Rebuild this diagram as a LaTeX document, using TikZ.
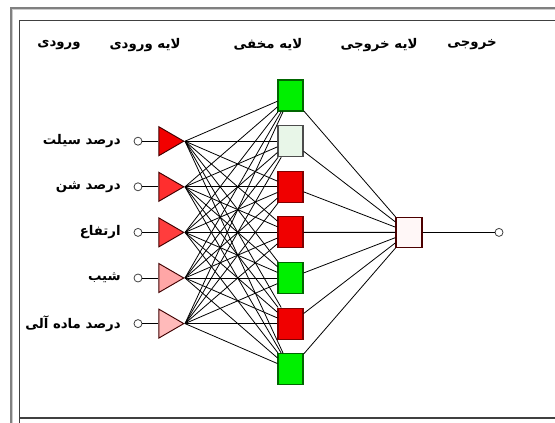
\documentclass[tikz,border=0pt]{standalone}
\usepackage{fontspec}
\newfontfamily\arabicfont[Script=Arabic]{DejaVu Sans}
\TeXXeTstate=1
\usetikzlibrary{shapes.geometric}
\newcommand{\farsi}[1]{{\arabicfont\bfseries\beginR #1\endR}}
\definecolor{hgreen}{HTML}{00F000}
\definecolor{hlight}{HTML}{E8F6E8}
\definecolor{hred}{HTML}{F00000}
\tikzset{
  lbl/.style = {font=\fontsize{10}{12}\selectfont, inner sep=0pt},
  link/.style = {draw=black, line width=0.6pt},
  tri/.style = {isosceles triangle, isosceles triangle stretches, shape border rotate=0,
    minimum width=29*0.75pt, minimum height=25*0.75pt, inner sep=0pt, draw=black!75!red, line width=0.7pt},
  hid/.style = {rectangle, minimum width=25*0.75pt, minimum height=31*0.75pt, inner sep=0pt, line width=0.9pt},
  io/.style = {circle, minimum size=8*0.75pt, inner sep=0pt, draw=black!75, fill=white, line width=0.6pt}
}
\begin{document}
\begin{tikzpicture}[x=0.75pt, y=-0.75pt]
\useasboundingbox (0,0) rectangle (555,423);
% frames
\draw[gray, line width=1.5pt] (10.5,430) -- (10.5,8) -- (560,8);
\draw[black!20, line width=0.75pt] (12.5,430) -- (12.5,10) -- (560,10);
\draw[black!75, line width=1.1pt] (19.5,560) -- (19.5,20.5) -- (560,20.5);
\draw[black!75, line width=1.1pt] (19.5,418) -- (560,418);
% headers
\node[lbl] (hd1) at (59,45) {\farsi{ورودی}};
\node[lbl] (hd2) at (145,45) {\farsi{لایه ورودی}};
\node[lbl] (hd3) at (268,45) {\farsi{لایه مخفی}};
\node[lbl] (hd4) at (379,45) {\farsi{لایه خروجی}};
\node[lbl] (hd5) at (472,45) {\farsi{خروجی}};
% hidden layer
\foreach \i/\c/\b in {1/hgreen/green!40!black, 2/hlight/black!70, 3/hred/red!50!black, 4/hred/red!50!black,
  5/hgreen/green!40!black, 6/hred/red!50!black, 7/hgreen/green!40!black}
  \node[hid, fill=\c, draw=\b] (h\i) at (290.5,{50+45.6*\i}) {};
% output layer
\node[hid, minimum height=30*0.75pt, minimum width=26*0.75pt, fill=red!3, draw=red!30!black] (out) at (409,232.4) {};
\node[io] (outc) at (499,232.4) {};
\draw[link] (out) -- (outc);
\foreach \j in {1,...,7} \draw[link] (h\j) -- (out);
% input layer
\foreach \i/\c/\t in {1/{red!95!black}/درصد سیلت, 2/{red!82!white}/درصد شن, 3/{red!76!white}/ارتفاع,
  4/{red!35!white}/شیب, 5/{red!27!white}/درصد ماده آلی} {
  \node[tri, fill=\c, anchor=apex] (t\i) at (185,{50+45.6*(\i+1)}) {};
  \node[io] (c\i) at (138,{50+45.6*(\i+1)}) {};
  \node[lbl, anchor=east] (l\i) at (121,{50+45.6*(\i+1)}) {\farsi{\t}};
  \draw[link] (c\i) -- (t\i.west);
  \foreach \j in {1,...,7} \draw[link] (t\i.apex) -- (h\j);
}
\end{tikzpicture}
\end{document}
